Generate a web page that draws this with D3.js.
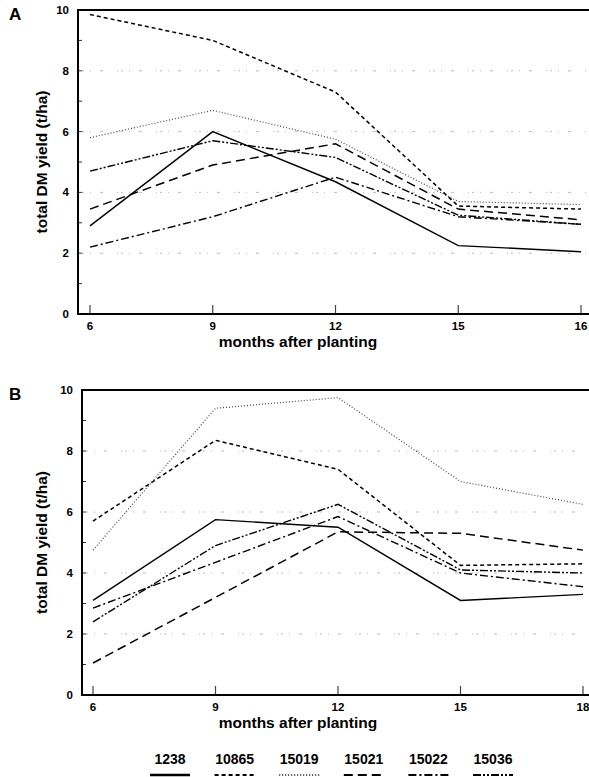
<!DOCTYPE html>
<html><head><meta charset="utf-8">
<script src="https://cdn.jsdelivr.net/npm/d3@7"></script>
<style>
html,body{margin:0;padding:0;background:#fff;}
svg text{font-family:"Liberation Sans",Arial,sans-serif;font-weight:bold;fill:#000;}
</style></head>
<body>
<svg id="c" width="589" height="777"></svg>
<script>
const months = [6, 9, 12, 15, 18];
const genotypes = ["1238", "10865", "15019", "15021", "15022", "15036"];
const yTicks = [0, 2, 4, 6, 8, 10];
const xTickLabelsA = ["6", "9", "12", "15", "16"];
const xTickLabelsB = ["6", "9", "12", "15", "18"];

// Panel A values (t/ha)
const a1238  = [2.9, 6.0, 4.35, 2.25, 2.05];
const a10865 = [9.85, 9.0, 7.3, 3.55, 3.45];
const a15019 = [5.8, 6.7, 5.75, 3.7, 3.6];
const a15021 = [3.45, 4.9, 5.6, 3.45, 3.1];
const a15022 = [2.2, 3.2, 4.5, 3.2, 2.95];
const a15036 = [4.7, 5.7, 5.15, 3.25, 2.95];

// Panel B values (t/ha)
const b1238  = [3.1, 5.75, 5.5, 3.1, 3.3];
const b10865 = [5.7, 8.35, 7.4, 4.25, 4.3];
const b15019 = [4.75, 9.4, 9.75, 7.0, 6.25];
const b15021 = [1.05, 3.2, 5.35, 5.3, 4.75];
const b15022 = [2.85, 4.35, 5.85, 4.0, 3.55];
const b15036 = [2.4, 4.9, 6.25, 4.1, 4.0];

const styles = {
  "1238":  {dash: null,            color: "#000", w: 1.4},
  "10865": {dash: "4,3",           color: "#000", w: 1.5},
  "15019": {dash: "1,2",           color: "#444", w: 1.2},
  "15021": {dash: "9,5",           color: "#000", w: 1.5},
  "15022": {dash: "8,3,2,3",       color: "#000", w: 1.4},
  "15036": {dash: "8,2,2,2,2,2",   color: "#000", w: 1.4}
};

const svg = d3.select("#c");

function panel(cfg) {
  const x = d3.scaleLinear().domain([6, 18]).range([cfg.x6, cfg.x18]);
  const y = d3.scaleLinear().domain([0, 10]).range([cfg.bottom, cfg.top]);
  const g = svg.append("g");

  // gridlines
  g.selectAll("line.grid").data(yTicks.filter(d => d > 0 && d < 10)).enter()
    .append("line")
    .attr("x1", cfg.left).attr("x2", 589)
    .attr("y1", d => y(d)).attr("y2", d => y(d))
    .attr("stroke", "#aaa").attr("stroke-width", 0.8)
    .attr("stroke-dasharray", "1,3,2,6,1,9,3,14");

  // minor y ticks
  g.selectAll("line.ytk").data(d3.range(0, 11)).enter()
    .append("line")
    .attr("x1", cfg.left).attr("x2", cfg.left + 4)
    .attr("y1", d => y(d)).attr("y2", d => y(d))
    .attr("stroke", "#333").attr("stroke-width", 1);

  // x ticks (inward)
  g.selectAll("line.xtk").data(months).enter()
    .append("line")
    .attr("x1", d => x(d)).attr("x2", d => x(d))
    .attr("y1", cfg.bottom).attr("y2", cfg.bottom - 9)
    .attr("stroke", "#444").attr("stroke-width", 1.2);

  // frame
  g.append("line").attr("x1", cfg.left).attr("x2", 589).attr("y1", cfg.top).attr("y2", cfg.top)
    .attr("stroke", "#000").attr("stroke-width", 2);
  g.append("line").attr("x1", cfg.left).attr("x2", 589).attr("y1", cfg.bottom).attr("y2", cfg.bottom)
    .attr("stroke", "#000").attr("stroke-width", 2);
  g.append("line").attr("x1", cfg.left).attr("x2", cfg.left).attr("y1", cfg.top - 1).attr("y2", cfg.bottom + 1)
    .attr("stroke", "#000").attr("stroke-width", 2);

  // y tick labels
  g.selectAll("text.yl").data(yTicks).enter()
    .append("text")
    .attr("x", cfg.left - 9).attr("y", d => y(d) + 4)
    .attr("text-anchor", "end").attr("font-size", 11.5)
    .text(d => d);

  // x tick labels
  g.selectAll("text.xl").data(months).enter()
    .append("text")
    .attr("x", d => x(d)).attr("y", cfg.bottom + 16)
    .attr("text-anchor", "middle").attr("font-size", 11.5)
    .text((d, i) => cfg.xlabels[i]);

  // titles
  g.append("text").attr("x", 298).attr("y", cfg.bottom + 33)
    .attr("text-anchor", "middle").attr("font-size", 15.5)
    .text("months after planting");
  g.append("text")
    .attr("transform", `translate(47,${(cfg.top + cfg.bottom) / 2}) rotate(-90)`)
    .attr("text-anchor", "middle").attr("font-size", 15.5)
    .text("total DM yield (t/ha)");
  g.append("text").attr("x", 9).attr("y", cfg.top + 10)
    .attr("font-size", 17).text(cfg.letter);

  // series
  const line = d3.line().x((d, i) => x(months[i])).y(d => y(d));
  genotypes.forEach((k, i) => {
    const s = styles[k];
    g.append("path").datum(cfg.series[i])
      .attr("d", line).attr("fill", "none")
      .attr("stroke", s.color).attr("stroke-width", s.w)
      .attr("stroke-dasharray", s.dash);
  });
}

panel({letter: "A", left: 78, top: 10, bottom: 314, x6: 90, x18: 581,
  xlabels: xTickLabelsA, series: [a1238, a10865, a15019, a15021, a15022, a15036]});
panel({letter: "B", left: 82, top: 390, bottom: 695, x6: 93, x18: 583,
  xlabels: xTickLabelsB, series: [b1238, b10865, b15019, b15021, b15022, b15036]});

// legend
const legendX = d3.scalePoint().domain(genotypes).range([170, 493]);
const lg = svg.append("g");
lg.selectAll("text").data(genotypes).enter().append("text")
  .attr("x", d => legendX(d)).attr("y", 764)
  .attr("text-anchor", "middle").attr("font-size", 14)
  .text(d => d);
lg.selectAll("line").data(genotypes).enter().append("line")
  .attr("x1", d => legendX(d) - 20).attr("x2", d => legendX(d) + 20)
  .attr("y1", 775).attr("y2", 775)
  .attr("stroke", d => styles[d].color)
  .attr("stroke-width", d => d === "1238" ? 2.5 : 1.8)
  .attr("stroke-dasharray", d => styles[d].dash);
</script>
</body></html>
